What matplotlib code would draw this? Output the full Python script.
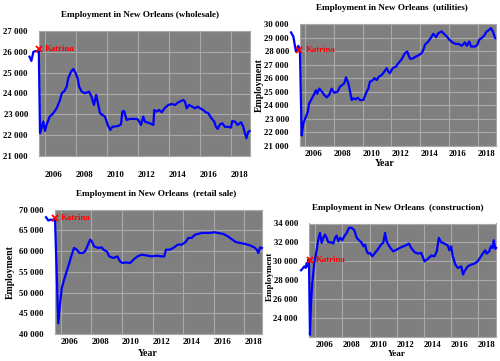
import matplotlib
matplotlib.use("Agg")
import matplotlib.pyplot as plt
from matplotlib.ticker import FuncFormatter

# ---------------- data (decimal years, employment) ----------------
wholesale_t = [2005.0, 2005.12, 2005.25, 2005.4, 2005.5, 2005.6, 2005.68, 2005.89, 2006.0, 2006.1,
               2006.3, 2006.53, 2006.75, 2006.97, 2007.08, 2007.25, 2007.4, 2007.5, 2007.68, 2007.83,
               2007.98, 2008.1, 2008.2, 2008.37, 2008.58, 2008.84, 2009.0, 2009.16, 2009.3, 2009.44,
               2009.55, 2009.87, 2010.05, 2010.21, 2010.34, 2010.73, 2010.9, 2010.99, 2011.1, 2011.27,
               2011.48, 2011.91, 2012.02, 2012.19, 2012.34, 2012.45, 2012.77, 2012.99, 2013.05, 2013.2,
               2013.35, 2013.53, 2013.74, 2013.96, 2014.17, 2014.39, 2014.6, 2014.92, 2015.03, 2015.14,
               2015.29, 2015.5, 2015.68, 2015.85, 2016.0, 2016.21, 2016.37, 2016.54, 2016.71, 2016.92,
               2017.03, 2017.14, 2017.29, 2017.44, 2017.61, 2017.83, 2018.0, 2018.08, 2018.26, 2018.43,
               2018.65, 2018.79, 2018.9, 2019.0, 2019.1, 2019.2]
wholesale_v = [25770, 25560, 26000, 26040, 26020, 26050, 22090, 22650, 22200, 22490,
               22890, 23050, 23290, 23690, 24010, 24120, 24330, 24730, 25050, 25180,
               24970, 24730, 24330, 24090, 24010, 24090, 23850, 23450, 23930, 23450,
               23050, 22890, 22490, 22250, 22400, 22440, 22520, 23130, 23160, 22730,
               22780, 22780, 22730, 22490, 22890, 22650, 22570, 22490, 23210, 23130,
               23210, 23100, 23320, 23450, 23500, 23450, 23580, 23690, 23610, 23290,
               23450, 23370, 23290, 23370, 23290, 23210, 23100, 23050, 22840, 22650,
               22400, 22300, 22520, 22570, 22400, 22400, 22360, 22680, 22650, 22490,
               22620, 22400, 22090, 21850, 22140, 22200]

utilities_t = [2005.03, 2005.19, 2005.31, 2005.37, 2005.49, 2005.53, 2005.6, 2005.65, 2005.77, 2005.88,
               2006.05, 2006.19, 2006.28, 2006.47, 2006.65, 2006.76, 2006.85, 2006.99, 2007.16, 2007.34,
               2007.51, 2007.67, 2007.85, 2008.03, 2008.27, 2008.43, 2008.59, 2008.73, 2008.85, 2009.01,
               2009.13, 2009.24, 2009.35, 2009.52, 2009.66, 2009.82, 2010.05, 2010.28, 2010.4, 2010.51,
               2010.67, 2010.81, 2010.98, 2011.14, 2011.33, 2011.51, 2011.67, 2011.78, 2011.9, 2012.09,
               2012.32, 2012.48, 2012.72, 2012.94, 2013.1, 2013.22, 2013.34, 2013.52, 2013.71, 2013.94,
               2014.1, 2014.22, 2014.33, 2014.56, 2014.73, 2014.91, 2015.1, 2015.26, 2015.49, 2015.65,
               2015.84, 2016.02, 2016.25, 2016.49, 2016.65, 2016.88, 2017.11, 2017.23, 2017.41, 2017.53,
               2017.81, 2017.97, 2018.1, 2018.27, 2018.43, 2018.62, 2018.81, 2018.9, 2019.05, 2019.2]
utilities_v = [29380, 29080, 28340, 27970, 28090, 28390, 28090, 27850, 21770, 22640,
               23130, 23500, 24120, 24490, 24860, 25110, 24860, 25230, 25030, 24760,
               24590, 24760, 25230, 24930, 25010, 25380, 25500, 25630, 26070, 25630,
               25010, 24390, 24520, 24440, 24560, 24390, 24390, 25010, 25230, 25750,
               25820, 26000, 25870, 26120, 26240, 26490, 26740, 26490, 26370, 26740,
               26860, 27110, 27410, 27850, 27970, 27600, 27410, 27480, 27600, 27730,
               27850, 28100, 28470, 28710, 28960, 29280, 29030, 29330, 29450, 29280,
               29080, 28840, 28640, 28520, 28540, 28390, 28640, 28390, 28710, 28340,
               28340, 28470, 28840, 28960, 29130, 29450, 29580, 29700, 29450, 28960]

retail_t = [2005.04, 2005.19, 2005.35, 2005.48, 2005.56, 2005.63, 2005.84, 2005.95, 2006.07, 2006.22,
            2006.39, 2006.56, 2006.72, 2006.87, 2007.05, 2007.22, 2007.44, 2007.59, 2007.74, 2007.92,
            2008.03, 2008.18, 2008.46, 2008.68, 2008.79, 2009.01, 2009.18, 2009.44, 2009.7, 2009.88,
            2010.05, 2010.27, 2010.53, 2010.75, 2011.01, 2011.29, 2011.58, 2011.95, 2012.27, 2012.6,
            2012.77, 2012.88, 2013.14, 2013.42, 2013.65, 2013.91, 2014.17, 2014.34, 2014.56, 2014.78,
            2014.99, 2015.22, 2015.43, 2015.76, 2016.04, 2016.26, 2016.63, 2016.92, 2017.22, 2017.44,
            2017.72, 2018.05, 2018.37, 2018.65, 2018.81, 2018.92, 2019.03, 2019.15]
retail_v = [68140, 67340, 67580, 67340, 67820, 67340, 42580, 47010, 51050, 53060,
            55070, 57100, 59110, 60730, 60320, 59520, 59520, 59910, 61120, 62740,
            62330, 61120, 60730, 60880, 60320, 59910, 58700, 58310, 58700, 57490,
            57100, 57250, 57100, 57900, 58700, 59110, 58940, 58700, 58870, 58700,
            58700, 60320, 60320, 60880, 61530, 61530, 62180, 63150, 63150, 63950,
            64120, 64360, 64360, 64360, 64510, 64360, 64120, 63540, 62740, 62180,
            61940, 61700, 61360, 60880, 60320, 59520, 60880, 60730]

construction_t = [2004.94, 2005.03, 2005.18, 2005.28, 2005.36, 2005.43, 2005.48, 2005.53, 2005.6, 2005.68,
                  2005.77, 2005.92, 2006.1, 2006.21, 2006.34, 2006.46, 2006.58, 2006.71, 2006.83, 2006.95,
                  2007.15, 2007.32, 2007.45, 2007.57, 2007.69, 2007.82, 2007.99, 2008.13, 2008.31, 2008.48,
                  2008.68, 2008.87, 2009.05, 2009.22, 2009.42, 2009.54, 2009.66, 2009.79, 2009.9, 2010.03,
                  2010.2, 2010.4, 2010.64, 2010.84, 2011.01, 2011.14, 2011.26, 2011.38, 2011.58, 2011.75,
                  2012.0, 2012.33, 2012.65, 2012.9, 2013.07, 2013.32, 2013.57, 2013.81, 2014.05, 2014.3,
                  2014.55, 2014.79, 2014.96, 2015.11, 2015.28, 2015.52, 2015.77, 2015.89, 2016.02, 2016.14,
                  2016.33, 2016.51, 2016.76, 2016.9, 2017.0, 2017.12, 2017.25, 2017.49, 2017.73, 2017.98,
                  2018.22, 2018.39, 2018.53, 2018.64, 2018.83, 2018.96, 2019.08, 2019.16, 2019.28, 2019.33]
construction_v = [29050, 29200, 29470, 29300, 29830, 29470, 30180, 29650, 22230, 25590,
                  27710, 29830, 31240, 32300, 33010, 31950, 32480, 32830, 32480, 32020,
                  32020, 31880, 32480, 32730, 32120, 32480, 32230, 32650, 33010, 33540,
                  33540, 33290, 32480, 32230, 31950, 31590, 31770, 31060, 30820, 30890,
                  30530, 30890, 31320, 31770, 31950, 33010, 32120, 31770, 31320, 31060,
                  31240, 31490, 31670, 31880, 31420, 30960, 30820, 30890, 30000, 30260,
                  30610, 30530, 31060, 32480, 32020, 31880, 31670, 31170, 31590, 30530,
                  29650, 29300, 29470, 28600, 28940, 29200, 29470, 29650, 29760, 30000,
                  30530, 30890, 31170, 30820, 31060, 31590, 31420, 32230, 31320, 31420]

titles = ["Employment in New Orleans (wholesale)",
          "Employment in New Orleans  (utilities)",
          "Employment in New Orleans  (retail sale)",
          "Employment in New Orleans  (construction)"]
year_ticks = [2006, 2008, 2010, 2012, 2014, 2016, 2018]
katrina_t = 2005.6
katrina_v = [26150, 28100, 68000, 30100]

# ---------------- styling ----------------
W, H = 500, 361
fig = plt.figure(figsize=(W / 100, H / 100), dpi=100)
fig.patch.set_facecolor("white")
serif = "Liberation Serif"

def px_axes(x0, y0, x1, y1):
    return fig.add_axes([x0 / W, 1 - y1 / H, (x1 - x0) / W, (y1 - y0) / H])

def fmt(v, pos):
    return f"{int(v):,}".replace(",", " ")

panels = [
    dict(box=(39, 31, 250, 156), xlim=(2005.613, 2019.226), ylim=(21000, 27000),
         yt=list(range(21000, 27001, 1000)), t=wholesale_t, v=wholesale_v, xpad=11),
    dict(box=(300, 24, 496, 146), xlim=(2005.653, 2019.264), ylim=(21000, 30000),
         yt=list(range(21000, 30001, 1000)), t=utilities_t, v=utilities_v, xpad=3),
    dict(box=(55, 209.5, 262, 334), xlim=(2005.627, 2019.157), ylim=(40000, 70000),
         yt=list(range(40000, 70001, 5000)), t=retail_t, v=retail_v, xpad=3),
    dict(box=(309, 223.5, 496, 337), xlim=(2005.528, 2019.33), ylim=(22000, 34000),
         yt=list(range(24000, 34001, 2000)), t=construction_t, v=construction_v, xpad=3),
]

axes = []
for i, p in enumerate(panels):
    ax = px_axes(*p["box"])
    ax.set_facecolor("#7f7f7f")
    ax.set_xlim(*p["xlim"])
    ax.set_ylim(*p["ylim"])
    ax.set_xticks(year_ticks)
    ax.set_yticks(p["yt"])
    ax.yaxis.set_major_formatter(FuncFormatter(fmt))
    ax.grid(True, color="#a9a9a9", linewidth=0.8)
    ax.set_axisbelow(True)
    for s in ax.spines.values():
        s.set_color("#a9a9a9")
        s.set_linewidth(0.8)
    ax.tick_params(length=0, labelsize=6.3, pad=p["xpad"], axis="x")
    ax.tick_params(length=0, labelsize=6.3, pad=8, axis="y")
    for lb in ax.get_xticklabels() + ax.get_yticklabels():
        lb.set_fontfamily(serif)
        lb.set_fontweight("bold")
    for lb in ax.get_xticklabels():
        lb.set_horizontalalignment("left")
    ax.plot(p["t"], p["v"], color="#0000ff", linewidth=1.6, clip_on=False, zorder=3)
    ax.plot([katrina_t], [katrina_v[i]], marker="x", color="red", markersize=4,
            markeredgewidth=1.3, clip_on=False, zorder=4)
    ax.annotate("Katrina", (katrina_t, katrina_v[i]), xytext=(4.5, 0), textcoords="offset points",
                color="red", fontsize=6.3, fontweight="bold", family=serif, va="center", ha="left",
                annotation_clip=False, zorder=5)
    axes.append(ax)

def ftext(x, y, s, **kw):
    fig.text(x / W, 1 - y / H, s, family=serif, fontweight="bold", **kw)

# titles
ftext(140, 15, titles[0], fontsize=6.6, ha="center", va="center")
ftext(392, 8, titles[1], fontsize=6.6, ha="center", va="center")
ftext(156, 194, titles[2], fontsize=6.6, ha="center", va="center")
ftext(398, 208, titles[3], fontsize=6.6, ha="center", va="center")

# axis labels
ftext(259, 85, "Employment", fontsize=7, rotation=90, ha="center", va="center")
ftext(10, 272, "Employment", fontsize=7, rotation=90, ha="center", va="center")
ftext(270, 276, "Employment", fontsize=6.5, rotation=90, ha="center", va="center")
ftext(385, 163, "Year", fontsize=7, ha="center", va="center")
ftext(148, 353, "Year", fontsize=7, ha="center", va="center")
ftext(397, 354, "Year", fontsize=6.5, ha="center", va="center")

fig.savefig("out.png", dpi=100)
